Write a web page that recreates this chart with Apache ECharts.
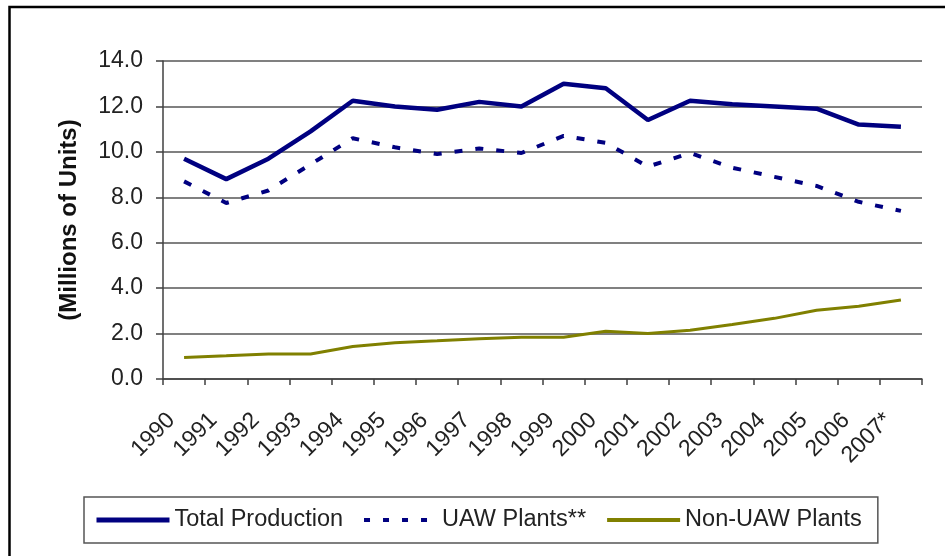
<!DOCTYPE html>
<html>
<head>
<meta charset="utf-8">
<script src="https://cdn.jsdelivr.net/npm/echarts@6/dist/echarts.min.js"></script>
<style>
  html, body { margin: 0; padding: 0; background: #fff; }
  #chart { width: 945px; height: 556px; }
</style>
</head>
<body>
<div id="chart"></div>
<script>
const years = ['1990', '1991', '1992', '1993', '1994', '1995', '1996', '1997', '1998',
  '1999', '2000', '2001', '2002', '2003', '2004', '2005', '2006', '2007*'];

const totalProduction = [9.7, 8.8, 9.7, 10.9, 12.25, 12.0, 11.85, 12.2, 12.0,
  13.0, 12.8, 11.4, 12.25, 12.1, 12.0, 11.9, 11.2, 11.1];

const uawPlants = [8.7, 7.75, 8.3, 9.45, 10.6, 10.2, 9.9, 10.15, 9.95,
  10.7, 10.4, 9.35, 9.95, 9.3, 8.9, 8.5, 7.8, 7.4];

const nonUawPlants = [0.95, 1.02, 1.1, 1.1, 1.43, 1.6, 1.68, 1.77, 1.84,
  1.84, 2.1, 2.0, 2.15, 2.4, 2.67, 3.03, 3.2, 3.48];

const seriesNames = ['Total Production', 'UAW Plants**', 'Non-UAW Plants'];

const navy = '#000080';
const olive = '#808000';
const font = 'Liberation Sans, Arial, sans-serif';

const chartDom = document.getElementById('chart');
const mychart = echarts.init(chartDom, null, { renderer: 'canvas' });

const option = {
  animation: false,
  backgroundColor: '#fff',
  textStyle: { fontFamily: font },
  grid: {
    left: 163,
    right: 23,
    top: 61,
    bottom: 177,
  },
  graphic: [{
    type: 'rect',
    shape: { x: 9.5, y: 7, width: 1000, height: 1000 },
    style: { fill: 'none', stroke: '#000', lineWidth: 2.5 },
    silent: true,
  }],
  legend: {
    data: [
      { name: seriesNames[0], lineStyle: { color: navy, width: 5 } },
      { name: seriesNames[1], lineStyle: { color: navy, width: 4, type: [6, 13] } },
      { name: seriesNames[2], lineStyle: { color: olive, width: 4 } },
    ],
    left: 84,
    top: 497,
    padding: [11, 16, 11, 10],
    itemWidth: 73,
    itemHeight: 14,
    itemGap: 19,
    itemStyle: { opacity: 0 },
    borderColor: '#555',
    borderWidth: 1.5,
    textStyle: { fontSize: 23.5, color: '#222', fontFamily: font },
  },
  xAxis: {
    type: 'category',
    data: years,
    boundaryGap: true,
    axisLine: { lineStyle: { color: '#404040', width: 1.5 } },
    axisTick: { show: true, length: 6, lineStyle: { color: '#404040', width: 1.5 } },
    axisLabel: {
      rotate: 45,
      interval: 0,
      margin: 25,
      padding: [0, 18, 0, 0],
      fontSize: 23,
      color: '#222',
      fontFamily: font,
    },
  },
  yAxis: {
    type: 'value',
    min: 0,
    max: 14,
    interval: 2,
    name: '(Millions of Units)',
    nameLocation: 'middle',
    nameGap: 82,
    nameTextStyle: { fontSize: 24, fontWeight: 'bold', color: '#111', fontFamily: font },
    axisLine: { show: true, lineStyle: { color: '#404040', width: 1.5 } },
    axisTick: { show: true, length: 7, lineStyle: { color: '#404040', width: 1.5 } },
    splitLine: { lineStyle: { color: '#808080', width: 2 } },
    axisLabel: {
      margin: 20,
      fontSize: 23,
      color: '#222',
      fontFamily: font,
      formatter: function (v) { return v.toFixed(1); },
    },
  },
  series: [
    {
      name: seriesNames[0],
      type: 'line',
      data: totalProduction,
      symbol: 'none',
      color: navy,
      lineStyle: { color: navy, width: 4.5 },
    },
    {
      name: seriesNames[1],
      type: 'line',
      data: uawPlants,
      symbol: 'none',
      color: navy,
      lineStyle: { color: navy, width: 4, type: [8, 13] },
    },
    {
      name: seriesNames[2],
      type: 'line',
      data: nonUawPlants,
      symbol: 'none',
      color: olive,
      lineStyle: { color: olive, width: 3 },
    },
  ],
};

mychart.setOption(option);
</script>
</body>
</html>
